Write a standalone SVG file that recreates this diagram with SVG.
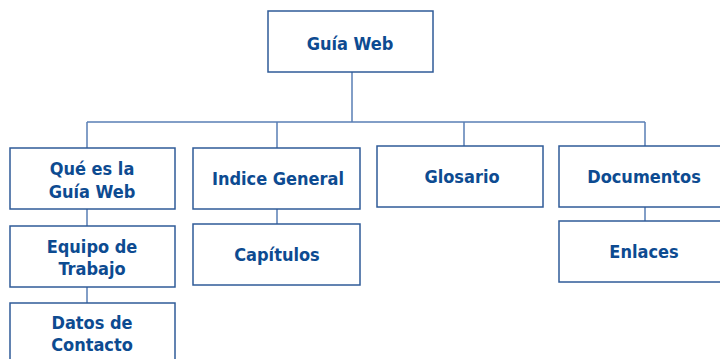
<svg xmlns="http://www.w3.org/2000/svg" width="720" height="359" viewBox="0 0 720 359">
<style>
.box{fill:#ffffff;stroke:#2F5B98;stroke-width:1.5}
.ln{fill:none;stroke:#5A7FB5;stroke-width:1.5}
.t{font-family:"DejaVu Sans Condensed","DejaVu Sans",sans-serif;font-weight:bold;font-size:18px;fill:#0D4B91;text-anchor:middle}
</style>
<rect width="720" height="359" fill="#ffffff"/>
<g id="connectors">
<path class="ln" d="M352 72V122M87 122H645M87 122V148M277 122V148M464 122V146M645 122V146M87 209V226M87 287V303M277 209V224M645 207V221"/>
</g>
<g id="n-guia"><rect class="box" x="268" y="11" width="165" height="61"/><text class="t" x="350" y="50">Guía Web</text></g>
<g id="n-que"><rect class="box" x="10" y="148" width="165" height="61"/><text class="t" x="92" y="175">Qué es la</text><text class="t" x="92" y="198">Guía Web</text></g>
<g id="n-indice"><rect class="box" x="193" y="148" width="167" height="61"/><text class="t" x="278" y="185">Indice General</text></g>
<g id="n-glosario"><rect class="box" x="377" y="146" width="166" height="61"/><text class="t" x="462" y="183">Glosario</text></g>
<g id="n-documentos"><rect class="box" x="559" y="146" width="166" height="61"/><text class="t" x="644" y="183">Documentos</text></g>
<g id="n-equipo"><rect class="box" x="10" y="226" width="165" height="61"/><text class="t" x="92" y="253">Equipo de</text><text class="t" x="92" y="275">Trabajo</text></g>
<g id="n-capitulos"><rect class="box" x="193" y="224" width="167" height="61"/><text class="t" x="277" y="261">Capítulos</text></g>
<g id="n-enlaces"><rect class="box" x="559" y="221" width="166" height="61"/><text class="t" x="644" y="258">Enlaces</text></g>
<g id="n-datos"><rect class="box" x="10" y="303" width="165" height="70"/><text class="t" x="92" y="329">Datos de</text><text class="t" x="92" y="351">Contacto</text></g>
</svg>
